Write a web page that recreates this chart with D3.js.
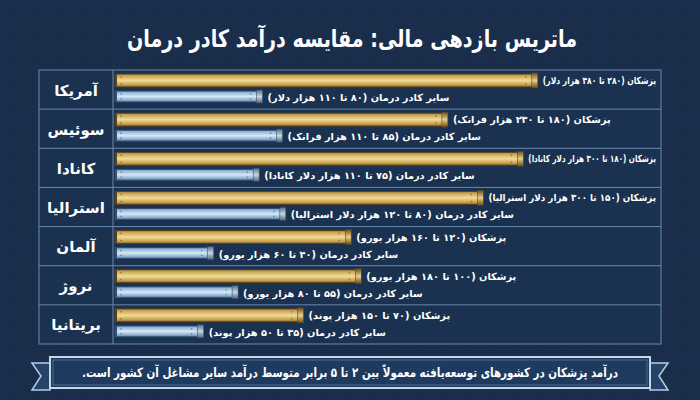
<!DOCTYPE html>
<html>
<head>
<meta charset="utf-8">
<title>ماتریس بازدهی مالی</title>
<style>
    body{ margin:0; background:#1a2e4b; }
    svg{ display:block; }
    text{ font-family:"DejaVu Sans", sans-serif; font-weight:bold; fill:#ffffff; }
</style>
<script src="https://d3js.org/d3.v7.min.js"></script>
</head>
<body>
<svg width="700" height="400"></svg>
<script>
    // data
    var countries = ["آمریکا","سوئیس","کانادا","استرالیا","آلمان","نروژ","بریتانیا"];
    var physLow   = [280, 180, 180, 150, 120, 100, 70];
    var physHigh  = [380, 230, 300, 300, 160, 180, 150];
    var otherLow  = [80, 85, 75, 80, 40, 55, 35];
    var otherHigh = [110, 110, 110, 120, 60, 80, 50];
    var currency  = ["دلار","فرانک","دلار کانادا","دلار استرالیا","یورو","یورو","پوند"];
    // bar lengths as drawn (chart units)
    var physBar   = [380, 299, 367, 331, 212, 221, 169];
    var otherBar  = [132, 150, 129, 153, 88, 110, 79];

    var title = "ماتریس بازدهی مالی: مقایسه درآمد کادر درمان";
    var note  = "درآمد پزشکان در کشورهای توسعه‌یافته معمولاً بین ۲ تا ۵ برابر متوسط درآمد سایر مشاغل آن کشور است.";

    function fa(n){
        return String(n).replace(/[0-9]/g, function(c){ return "۰۱۲۳۴۵۶۷۸۹"[+c]; });
    }

    var svg = d3.select("svg");
    var defs = svg.append("defs");

    function grad(id, stops){
        var g = defs.append("linearGradient").attr("id", id)
            .attr("x1",0).attr("y1",0).attr("x2",0).attr("y2",1);
        stops.forEach(function(s){
            g.append("stop").attr("offset", s[0]).attr("stop-color", s[1]);
        });
    }
    grad("gold", [["0%","#8a672a"],["12%","#c9a150"],["50%","#f0dc98"],["85%","#c49c48"],["100%","#7a5920"]]);
    grad("goldCap", [["0%","#6e5120"],["50%","#e7cf86"],["100%","#6a4c1c"]]);
    grad("blue", [["0%","#48698e"],["12%","#8fb4d6"],["50%","#d6e8f5"],["85%","#86aacd"],["100%","#43648a"]]);
    grad("blueCap", [["0%","#5a6f86"],["50%","#c8d6e4"],["100%","#52667d"]]);

    // background blueprint grid
    svg.append("rect").attr("width",700).attr("height",400).attr("fill","#1a2e4b");
    var grid = svg.append("g").attr("stroke","#5d7fa8").attr("stroke-width",0.6);
    d3.range(0, 700, 24).forEach(function(gx){
        grid.append("line").attr("x1",gx).attr("x2",gx).attr("y1",0).attr("y2",400)
            .attr("stroke-opacity", gx % 120 === 0 ? 0.16 : 0.06);
    });
    d3.range(0, 400, 24).forEach(function(gy){
        grid.append("line").attr("y1",gy).attr("y2",gy).attr("x1",0).attr("x2",700)
            .attr("stroke-opacity", gy % 120 === 0 ? 0.16 : 0.06);
    });

    // title
    svg.append("text")
        .attr("x", 352).attr("y", 47)
        .attr("direction","rtl")
        .attr("text-anchor","middle")
        .attr("textLength", 450)
        .attr("lengthAdjust","spacingAndGlyphs")
        .style("font-size","24px")
        .text(title);

    // panel
    var pTop = 70, pBottom = 344, pLeft = 39, pRight = 661, labelRight = 113;
    var y = d3.scaleBand().domain(countries).range([pTop, pBottom]);
    var x = d3.scaleLinear().domain([0, 400]).range([115, 559]);

    svg.append("rect")
        .attr("x", pLeft).attr("y", pTop)
        .attr("width", pRight-pLeft).attr("height", pBottom-pTop)
        .attr("fill","#1b3150").attr("stroke","#6a8ab0").attr("stroke-width",1);
    svg.append("line")
        .attr("x1", labelRight).attr("x2", labelRight).attr("y1", pTop).attr("y2", pBottom)
        .attr("stroke","#6a8ab0");
    svg.selectAll(".sep").data(countries.slice(1)).enter().append("line")
        .attr("x1", pLeft).attr("x2", pRight)
        .attr("y1", function(d){ return y(d); }).attr("y2", function(d){ return y(d); })
        .attr("stroke","#6a8ab0");

    // country labels
    svg.selectAll(".country").data(countries).enter().append("text")
        .attr("x", (pLeft+labelRight)/2)
        .attr("y", function(d){ return y(d) + y.bandwidth()/2 + 6; })
        .attr("direction","rtl")
        .attr("text-anchor","middle")
        .style("font-size","15px")
        .text(function(d){ return d; });

    function bars(vals, fill, capFill, dy, h, stroke){
        var g = svg.append("g");
        vals.forEach(function(v, i){
            var y0 = y(countries[i]) + dy;
            g.append("rect")
                .attr("x", x(0)).attr("y", y0)
                .attr("width", x(v)-x(0)).attr("height", h)
                .attr("fill", "url(#"+fill+")").attr("stroke", stroke).attr("stroke-width",0.8);
            // start and end caps
            g.append("rect")
                .attr("x", x(0)).attr("y", y0).attr("width", 2).attr("height", h)
                .attr("fill", stroke);
            g.append("rect")
                .attr("x", x(v)-5).attr("y", y0-1).attr("width", 6).attr("height", h+2)
                .attr("fill", "url(#"+capFill+")").attr("stroke", stroke).attr("stroke-width",0.6);
            // rivets
            [x(0)+6, x(v)-11].forEach(function(rx){
                g.append("circle").attr("cx", rx).attr("cy", y0+3).attr("r",0.8).attr("fill", stroke).attr("opacity",0.6);
                g.append("circle").attr("cx", rx).attr("cy", y0+h-3).attr("r",0.8).attr("fill", stroke).attr("opacity",0.6);
            });
        });
    }
    bars(physBar, "gold", "goldCap", 4, 13, "#5a431a");
    bars(otherBar, "blue", "blueCap", 21, 11, "#34506f");

    // value labels; squeeze any that would run past the panel edge
    function fit(sel){
        sel.each(function(){
            var x0 = +this.getAttribute("x");
            var w = this.getComputedTextLength();
            if (x0 + w > pRight - 5) {
                d3.select(this).attr("textLength", pRight - 5 - x0).attr("lengthAdjust","spacingAndGlyphs");
            }
        });
    }
    svg.selectAll(".plab").data(countries).enter().append("text")
        .attr("x", function(d,i){ return x(physBar[i]) + 6; })
        .attr("y", function(d){ return y(d) + 14; })
        .attr("direction","rtl")
        .attr("text-anchor","end")
        .style("font-size","9.8px")
        .text(function(d,i){ return "پزشکان (" + fa(physLow[i]) + " تا " + fa(physHigh[i]) + " هزار " + currency[i] + ")"; })
        .call(fit);
    svg.selectAll(".olab").data(countries).enter().append("text")
        .attr("x", function(d,i){ return x(otherBar[i]) + 6; })
        .attr("y", function(d){ return y(d) + 31; })
        .attr("direction","rtl")
        .attr("text-anchor","end")
        .style("font-size","9.8px")
        .text(function(d,i){ return "سایر کادر درمان (" + fa(otherLow[i]) + " تا " + fa(otherHigh[i]) + " هزار " + currency[i] + ")"; })
        .call(fit);

    // footer ribbon
    var rib = svg.append("g");
    rib.append("polygon").attr("points","50,363 32,363 41,376 32,390 50,390")
        .attr("fill","#24436a").attr("stroke","#b8cde2").attr("stroke-width",1.5);
    rib.append("polygon").attr("points","650,363 668,363 659,376 668,390 650,390")
        .attr("fill","#24436a").attr("stroke","#b8cde2").attr("stroke-width",1.5);
    rib.append("rect").attr("x",50).attr("y",357).attr("width",600).attr("height",31)
        .attr("fill","#1f3a5f").attr("stroke","#c5d6e6").attr("stroke-width",2);
    rib.append("rect").attr("x",53).attr("y",360).attr("width",594).attr("height",25)
        .attr("fill","none").attr("stroke","#6d8db3").attr("stroke-width",0.6);
    rib.append("text")
        .attr("x", 350).attr("y", 377)
        .attr("direction","rtl")
        .attr("text-anchor","middle")
        .attr("textLength", 536)
        .attr("lengthAdjust","spacingAndGlyphs")
        .style("font-size","13px")
        .text(note);
</script>
</body>
</html>
